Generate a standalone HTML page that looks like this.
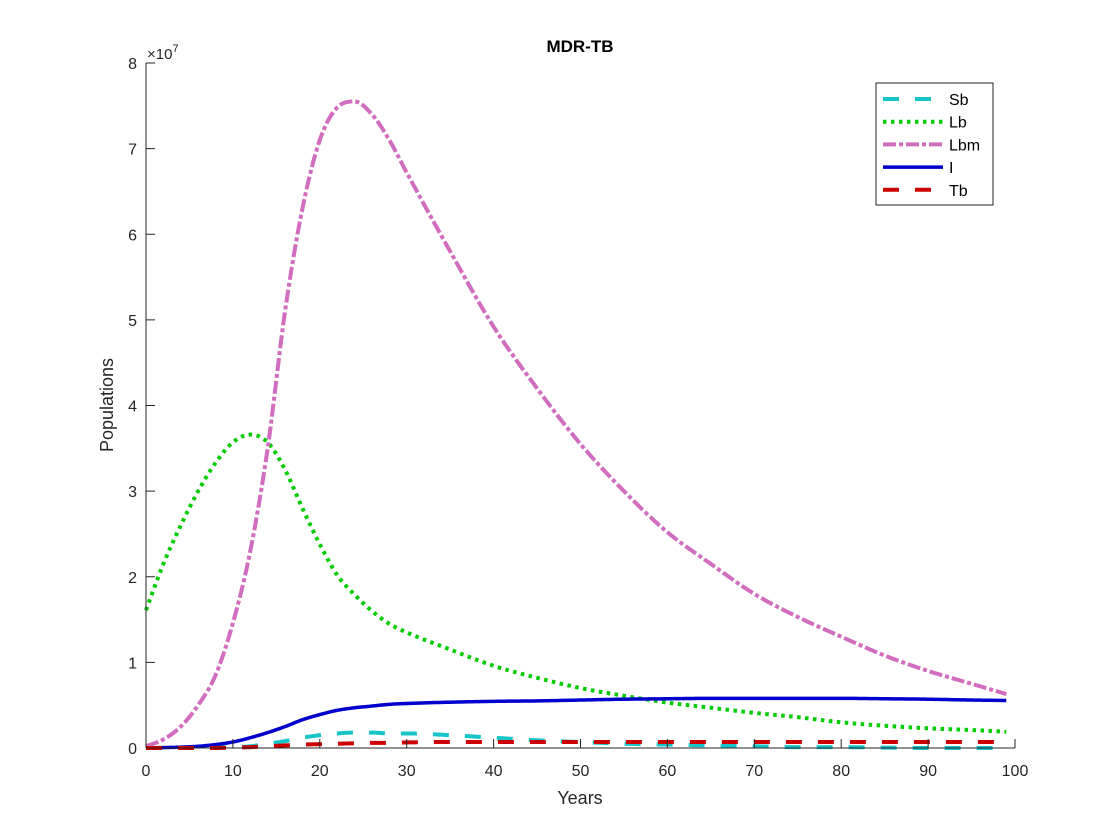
<!DOCTYPE html>
<html><head><meta charset="utf-8"><style>
html,body{margin:0;padding:0;background:#fff;}
svg{display:block;font-family:"Liberation Sans",sans-serif;}
</style></head><body>
<svg id="chart" width="1120" height="840" viewBox="0 0 1120 840" xmlns="http://www.w3.org/2000/svg">
<rect width="1120" height="840" fill="#fff"/>
<g id="series"></g>
<g id="axes"></g>
<text x="580" y="52" text-anchor="middle" font-size="17" font-weight="bold" fill="#000">MDR-TB</text>
<text x="580" y="804" text-anchor="middle" font-size="18" fill="#262626">Years</text>
<text x="113" y="405" text-anchor="middle" font-size="18" fill="#262626" transform="rotate(-90 113 405)">Populations</text>
<text x="147" y="59" font-size="15" fill="#262626">×10<tspan font-size="11" dy="-7">7</tspan></text>
<g>
<rect x="876" y="83" width="117" height="122" fill="#fff" stroke="#262626" stroke-width="1"/>
<g id="legend-entries"></g>
</g>
</svg>
<script>
const times=[0,2,4,6,8,10,12,14,16,18,20,22,24,26,28,30,35,40,45,50,55,60,65,70,75,80,85,90,95,99];
const sbValues=[0,0,0,0,0.005,0.01,0.02,0.05,0.08,0.12,0.15,0.17,0.18,0.18,0.17,0.17,0.15,0.12,0.09,0.07,0.05,0.04,0.03,0.02,0.01,0.01,0.005,0,0,0];
const lbValues=[1.61,2.15,2.6,3.0,3.33,3.57,3.66,3.57,3.25,2.8,2.38,2.02,1.79,1.6,1.45,1.35,1.15,0.96,0.82,0.70,0.61,0.53,0.47,0.41,0.36,0.30,0.26,0.23,0.21,0.19];
const lbmValues=[0.02,0.1,0.25,0.5,0.85,1.46,2.3,3.5,5.1,6.3,7.1,7.48,7.55,7.4,7.1,6.72,5.8,4.92,4.2,3.55,3.0,2.52,2.15,1.8,1.53,1.3,1.08,0.9,0.75,0.63];
const iValues=[0,0.005,0.01,0.02,0.04,0.07,0.12,0.18,0.25,0.33,0.39,0.44,0.47,0.49,0.51,0.52,0.535,0.545,0.55,0.56,0.57,0.575,0.58,0.58,0.58,0.58,0.575,0.57,0.56,0.555];
const tbValues=[0,0,0,0,0,0.005,0.01,0.02,0.03,0.04,0.045,0.05,0.055,0.06,0.06,0.065,0.07,0.07,0.07,0.07,0.07,0.07,0.07,0.07,0.07,0.07,0.07,0.07,0.07,0.07];
const xTicks=[0,10,20,30,40,50,60,70,80,90,100];
const yTicks=[0,1,2,3,4,5,6,7,8];
const seriesNames=["Sb","Lb","Lbm","I","Tb"];

const NS="http://www.w3.org/2000/svg";
const X0=146,X1=1015,Y0=748,Y1=63;
function xs(t){return X0+(t/100)*(X1-X0);}
function ys(v){return Y0-(v/8)*(Y0-Y1);}

function monotone(xa,ya){
  const n=xa.length,d=[],m=new Array(n);
  for(let i=0;i<n-1;i++)d.push((ya[i+1]-ya[i])/(xa[i+1]-xa[i]));
  m[0]=d[0];m[n-1]=d[n-2];
  for(let i=1;i<n-1;i++){m[i]=(d[i-1]*d[i]<=0)?0:(d[i-1]+d[i])/2;}
  for(let i=0;i<n-1;i++){
    if(d[i]===0){m[i]=0;m[i+1]=0;continue;}
    const a=m[i]/d[i],b=m[i+1]/d[i],s=a*a+b*b;
    if(s>9){const t=3/Math.sqrt(s);m[i]=t*a*d[i];m[i+1]=t*b*d[i];}
  }
  const pts=[];
  for(let i=0;i<n-1;i++){
    const h=xa[i+1]-xa[i],steps=12;
    for(let k=0;k<steps;k++){
      const u=k/steps,h00=2*u*u*u-3*u*u+1,h10=u*u*u-2*u*u+u,h01=-2*u*u*u+3*u*u,h11=u*u*u-u*u;
      const y=h00*ya[i]+h10*h*m[i]+h01*ya[i+1]+h11*h*m[i+1];
      pts.push([xa[i]+u*h,y]);
    }
  }
  pts.push([xa[n-1],ya[n-1]]);
  return pts;
}

const styles={
  Sb:{color:"#17c4c8",dash:"16 16",w:4},
  Lb:{color:"#00cc00",dash:"3.5 4.5",w:4},
  Lbm:{color:"#d16cbf",dash:"13 3 4 3",w:4},
  I:{color:"#0000cc",dash:"",w:3.5},
  Tb:{color:"#cc0000",dash:"16 16",w:4}
};
const dataMap={Sb:sbValues,Lb:lbValues,Lbm:lbmValues,I:iValues,Tb:tbValues};
const sg=document.getElementById("series");
const order=["Sb","Lb","Lbm","I","Tb"];
order.forEach(name=>{
  const st=styles[name];
  const pts=monotone(times,dataMap[name]).map(p=>xs(p[0]).toFixed(2)+","+ys(Math.max(0,p[1])).toFixed(2)).join(" ");
  const pl=document.createElementNS(NS,"polyline");
  pl.setAttribute("points",pts);
  pl.setAttribute("fill","none");
  pl.setAttribute("stroke",st.color);
  pl.setAttribute("stroke-width",st.w);
  if(st.dash)pl.setAttribute("stroke-dasharray",st.dash);
  
  
  sg.appendChild(pl);
});

const ag=document.getElementById("axes");
function el(tag,attrs){const e=document.createElementNS(NS,tag);for(const k in attrs)e.setAttribute(k,attrs[k]);return e;}
let a=el("line",{x1:X0,y1:Y1,x2:X0,y2:Y0,stroke:"#262626","stroke-width":1});


ag.appendChild(a);
a=el("line",{x1:X0,y1:Y0,x2:X1,y2:Y0,stroke:"#262626","stroke-width":1});


ag.appendChild(a);
xTicks.forEach(t=>{
  const x=xs(t);
  const tk=el("line",{x1:x,y1:Y0,x2:x,y2:Y0-9,stroke:"#262626","stroke-width":1});
  
  
  ag.appendChild(tk);
  const tx=el("text",{x:x,y:Y0+28,"text-anchor":"middle","font-size":"16",fill:"#262626"});
  tx.textContent=t;
  
  
  ag.appendChild(tx);
});
yTicks.forEach(v=>{
  const y=ys(v);
  const tk=el("line",{x1:X0,y1:y,x2:X0+9,y2:y,stroke:"#262626","stroke-width":1});
  
  
  ag.appendChild(tk);
  const tx=el("text",{x:X0-9,y:y+6,"text-anchor":"end","font-size":"16",fill:"#262626"});
  tx.textContent=v;
  
  
  ag.appendChild(tx);
});

const lg=document.getElementById("legend-entries");
seriesNames.forEach((name,i)=>{
  const y=99+i*22.7,st=styles[name];
  const ln=el("line",{x1:883,y1:y,x2:943,y2:y,stroke:st.color,"stroke-width":st.w});
  if(st.dash)ln.setAttribute("stroke-dasharray",st.dash==="16 16"?"16 16":st.dash);
  
  
  lg.appendChild(ln);
  const tx=el("text",{x:949,y:y+6,"font-size":"16",fill:"#000"});
  tx.textContent=name;
  
  
  lg.appendChild(tx);
});
</script>
</body></html>
